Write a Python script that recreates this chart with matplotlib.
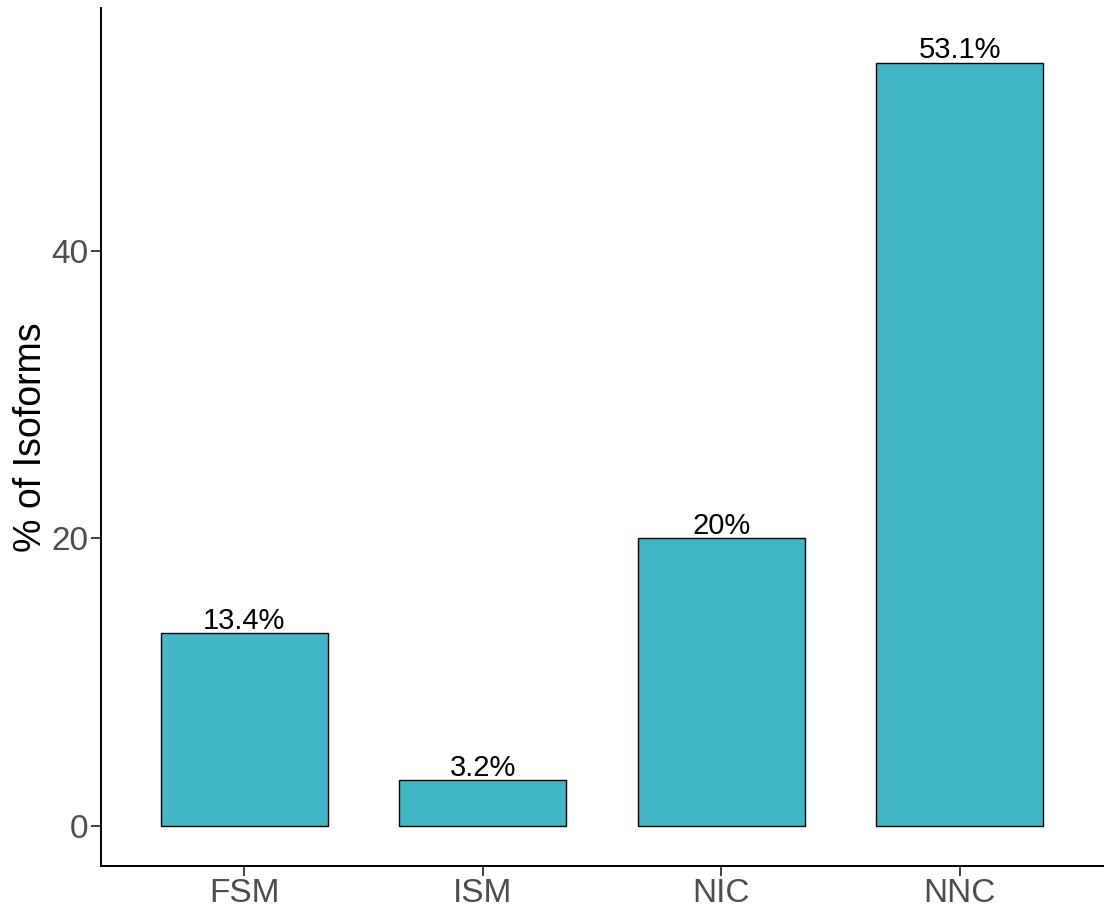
import matplotlib
matplotlib.use("Agg")
import matplotlib.pyplot as plt

plt.rcParams["font.family"] = ["Liberation Sans", "DejaVu Sans"]

categories = ["FSM", "ISM", "NIC", "NNC"]
percent = [13.4, 3.2, 20.0, 53.1]
bar_labels = ["13.4%", "3.2%", "20%", "53.1%"]
yticks = [0, 20, 40]

fig = plt.figure(figsize=(11.11, 9.09), dpi=100)
W, H = 1111, 909
left, right, top, bottom = 101, 1103, 8, 866
ax = fig.add_axes([left / W, (H - bottom) / H, (right - left) / W, (bottom - top) / H])

x = list(range(len(categories)))
ax.bar(x, percent, width=0.7, color="#42B6C5", edgecolor="black", linewidth=1.0, zorder=2)
for xi, v, lab in zip(x, percent, bar_labels):
    ax.text(xi, v + 0.3, lab, ha="center", va="baseline", fontsize=21, color="black")

ax.set_xlim(-0.6, 3.6)
ax.set_ylim(-2.78, 56.9)
ax.set_xticks(x)
ax.set_xticklabels(categories)
ax.set_yticks(yticks)
ax.tick_params(axis="both", labelsize=24, labelcolor="#4D4D4D", color="#333333",
               length=7, width=1.3, pad=2)
ax.set_ylabel("% of Isoforms", fontsize=27, labelpad=2)

for s in ["top", "right"]:
    ax.spines[s].set_visible(False)
for s in ["left", "bottom"]:
    ax.spines[s].set_linewidth(1.4)

fig.savefig("out.png", dpi=100)
